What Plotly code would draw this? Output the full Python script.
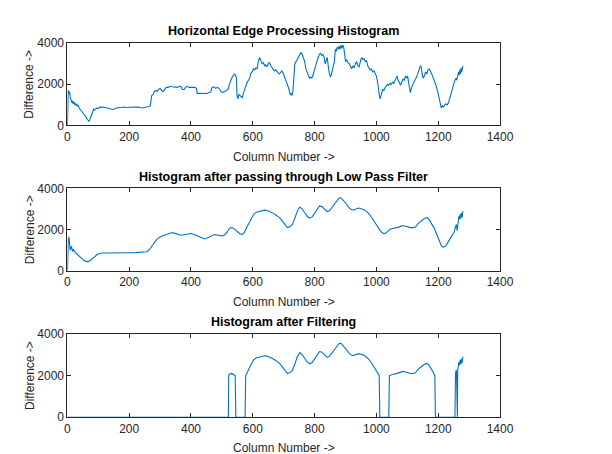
import plotly.graph_objects as go

# ---------------- data ----------------
raw_cols = [0, 1, 3, 5, 7, 9, 11, 13, 15, 17, 19, 21, 23, 25, 28, 31, 34, 37, 40, 43, 46, 49, 52, 55, 58, 61, 64, 67, 70, 73, 76, 79, 82, 85, 88, 91, 95, 100, 105, 110, 116, 122, 128, 134, 140, 146, 152, 158, 164, 170, 176, 182, 188, 194, 200, 206, 212, 218, 224, 230, 236, 242, 248, 254, 260, 265, 268, 270, 273, 277, 281, 285, 290, 295, 300, 305, 310, 315, 320, 326, 332, 338, 344, 350, 356, 362, 368, 372, 378, 382, 388, 394, 400, 406, 412, 418, 420, 428, 436, 444, 452, 458, 464, 468, 474, 480, 486, 492, 498, 504, 510, 515, 520, 524, 528, 532, 536, 540, 544, 547, 549, 552, 555, 558, 562, 566, 570, 574, 578, 582, 586, 590, 594, 598, 602, 606, 610, 614, 618, 622, 626, 630, 634, 638, 642, 646, 650, 654, 658, 662, 666, 670, 674, 678, 682, 686, 690, 694, 698, 702, 706, 710, 714, 718, 721, 724, 727, 730, 733, 736, 740, 744, 748, 752, 756, 760, 764, 768, 771, 775, 779, 783, 787, 791, 795, 799, 803, 807, 811, 815, 819, 823, 827, 831, 834, 837, 841, 844, 848, 852, 856, 860, 864, 867, 870, 873, 876, 879, 882, 885, 888, 891, 894, 897, 900, 904, 908, 912, 916, 920, 924, 928, 932, 936, 940, 944, 948, 952, 956, 960, 964, 968, 972, 976, 980, 984, 988, 992, 996, 1000, 1004, 1008, 1011, 1014, 1017, 1020, 1024, 1028, 1032, 1036, 1040, 1044, 1048, 1052, 1056, 1060, 1064, 1067, 1070, 1074, 1078, 1082, 1086, 1090, 1094, 1098, 1101, 1104, 1107, 1110, 1114, 1118, 1122, 1126, 1130, 1134, 1138, 1142, 1145, 1148, 1151, 1155, 1159, 1163, 1167, 1171, 1175, 1179, 1183, 1187, 1191, 1195, 1199, 1203, 1207, 1210, 1213, 1217, 1221, 1225, 1229, 1233, 1237, 1241, 1245, 1249, 1253, 1257, 1260, 1263, 1266, 1268, 1270, 1272, 1274, 1276, 1278, 1280]
raw_vals = [0, 1500, 1700, 1550, 1650, 1400, 1250, 1150, 1100, 1200, 1050, 1150, 1100, 1000, 1050, 950, 1000, 850, 800, 750, 700, 650, 600, 550, 450, 400, 300, 250, 200, 300, 450, 600, 700, 800, 750, 800, 850, 820, 900, 880, 900, 870, 860, 840, 800, 780, 800, 830, 870, 860, 880, 900, 870, 880, 900, 880, 920, 900, 880, 900, 870, 850, 870, 880, 900, 920, 950, 1300, 1450, 1500, 1650, 1700, 1650, 1750, 1800, 1700, 1650, 1750, 1850, 1850, 1900, 1880, 1870, 1850, 1850, 1900, 1880, 1750, 1750, 1850, 1900, 1850, 1850, 1830, 1850, 1800, 1550, 1560, 1550, 1560, 1550, 1600, 1620, 1850, 1880, 1800, 1850, 1780, 1620, 1600, 1650, 1700, 1750, 2000, 2200, 2300, 2400, 2500, 2450, 2300, 1400, 1300, 1500, 1450, 1400, 1350, 1600, 1800, 1900, 2100, 2200, 2300, 2550, 2600, 2750, 2700, 2800, 2750, 3100, 3300, 3150, 3000, 3050, 2900, 2950, 2850, 3000, 3050, 2900, 2800, 2750, 2650, 2700, 2600, 2550, 2500, 2600, 2650, 2550, 2400, 2200, 2100, 1900, 1700, 1500, 1550, 1450, 1700, 2600, 3000, 3100, 3200, 3300, 3450, 3550, 3450, 3300, 3100, 2800, 2600, 2400, 2300, 2350, 2300, 2450, 2700, 2900, 3100, 3250, 3450, 3500, 3400, 3450, 3300, 3000, 3200, 3300, 2900, 2500, 2350, 2600, 2800, 3100, 3700, 3600, 3800, 3700, 3850, 3700, 3900, 3750, 3900, 3800, 3500, 3100, 3200, 3050, 3000, 2900, 2750, 2900, 2800, 3000, 3100, 2900, 2850, 3100, 3300, 3200, 3250, 3100, 3150, 2900, 2800, 2700, 2750, 2600, 2650, 2500, 2400, 2100, 1700, 1300, 1400, 1600, 1750, 1700, 1850, 1900, 2000, 1950, 2050, 2000, 2100, 2050, 2150, 2300, 2400, 2200, 2100, 1950, 2100, 2250, 2200, 2400, 2300, 2400, 2100, 1700, 1600, 1850, 2000, 2150, 2250, 2350, 2500, 2700, 2900, 2850, 2500, 2300, 2400, 2600, 2500, 2700, 2750, 2650, 2500, 2350, 2200, 2000, 1850, 1600, 1350, 1000, 850, 950, 900, 1000, 1050, 1000, 1100, 1300, 1550, 1800, 2000, 2150, 2300, 2200, 2400, 2600, 2450, 2700, 2500, 2800, 2600, 2850, 2900]

lpf_cols = [0, 1, 3, 5, 7, 9, 11, 13, 15, 17, 19, 21, 25, 30, 38, 46, 54, 60, 66, 72, 80, 88, 96, 104, 112, 130, 154, 175, 196, 220, 249, 258, 266, 274, 281, 288, 295, 302, 310, 318, 326, 334, 340, 348, 356, 365, 374, 382, 392, 400, 410, 420, 430, 438, 444, 452, 460, 468, 476, 484, 492, 500, 508, 514, 520, 526, 532, 538, 544, 550, 558, 566, 572, 580, 588, 596, 604, 612, 620, 628, 638, 648, 658, 668, 678, 688, 696, 704, 712, 720, 728, 736, 744, 752, 760, 768, 776, 784, 792, 800, 808, 816, 824, 832, 840, 848, 856, 864, 872, 880, 886, 894, 902, 910, 918, 926, 934, 942, 950, 958, 966, 974, 982, 990, 998, 1006, 1014, 1022, 1030, 1038, 1046, 1054, 1062, 1070, 1078, 1086, 1094, 1102, 1110, 1118, 1126, 1134, 1142, 1150, 1158, 1164, 1170, 1178, 1186, 1192, 1198, 1204, 1210, 1216, 1222, 1228, 1234, 1240, 1246, 1252, 1256, 1259, 1261, 1263, 1265, 1267, 1269, 1271, 1273, 1275, 1277, 1279, 1280]
lpf_vals = [0, 1400, 1500, 1650, 1300, 1000, 1100, 1200, 1050, 950, 1050, 980, 900, 830, 720, 600, 500, 460, 450, 480, 560, 680, 790, 850, 870, 865, 860, 870, 880, 885, 900, 930, 1050, 1230, 1370, 1500, 1600, 1670, 1720, 1750, 1790, 1850, 1860, 1820, 1770, 1740, 1740, 1760, 1790, 1810, 1770, 1700, 1620, 1570, 1550, 1590, 1660, 1730, 1760, 1740, 1710, 1700, 1740, 1820, 1960, 2080, 2100, 2060, 1980, 1900, 1800, 1760, 1850, 2100, 2350, 2580, 2770, 2850, 2880, 2920, 2950, 2920, 2860, 2780, 2680, 2560, 2400, 2220, 2100, 2140, 2250, 2550, 2900, 3100, 3000, 2820, 2650, 2560, 2620, 2800, 3000, 3150, 3120, 3000, 2880, 2920, 3070, 3250, 3420, 3550, 3540, 3420, 3260, 3100, 2980, 2960, 3020, 3050, 3020, 2980, 2900, 2800, 2650, 2450, 2250, 2050, 1920, 1820, 1830, 1940, 2030, 2060, 2080, 2110, 2160, 2200, 2170, 2120, 2100, 2100, 2130, 2280, 2400, 2480, 2560, 2580, 2500, 2330, 2100, 1900, 1650, 1400, 1220, 1150, 1180, 1300, 1450, 1580, 1720, 1900, 2150, 2250, 1950, 2250, 2400, 2650, 2500, 2750, 2550, 2800, 2600, 2850, 2900]

filt_cols = [0, 521, 522, 526, 532, 538, 543, 545, 575, 577, 580, 588, 596, 604, 612, 620, 628, 638, 648, 658, 668, 678, 688, 696, 704, 712, 720, 728, 736, 744, 752, 760, 768, 776, 784, 792, 800, 808, 816, 824, 832, 840, 848, 856, 864, 872, 880, 886, 894, 902, 910, 918, 926, 934, 942, 950, 958, 966, 974, 982, 990, 998, 1006, 1009, 1011, 1040, 1042, 1046, 1054, 1062, 1070, 1078, 1086, 1094, 1102, 1110, 1118, 1126, 1134, 1142, 1150, 1158, 1164, 1170, 1178, 1186, 1189, 1191, 1254, 1255, 1256, 1259, 1260, 1262, 1263, 1265, 1267, 1269, 1271, 1273, 1275, 1277, 1279, 1280]
filt_vals = [0, 0, 2020, 2080, 2100, 2060, 2000, 0, 0, 2000, 2100, 2350, 2580, 2770, 2850, 2880, 2920, 2950, 2920, 2860, 2780, 2680, 2560, 2400, 2220, 2100, 2140, 2250, 2550, 2900, 3100, 3000, 2820, 2650, 2560, 2620, 2800, 3000, 3150, 3120, 3000, 2880, 2920, 3070, 3250, 3420, 3550, 3540, 3420, 3260, 3100, 2980, 2960, 3020, 3050, 3020, 2980, 2900, 2800, 2650, 2450, 2250, 2050, 2000, 0, 0, 2000, 2030, 2060, 2080, 2110, 2160, 2200, 2170, 2120, 2100, 2100, 2130, 2280, 2400, 2480, 2560, 2580, 2500, 2330, 2100, 2000, 0, 0, 2000, 2150, 2250, 0, 0, 2250, 2400, 2650, 2500, 2750, 2550, 2800, 2600, 2850, 2900]

titles = ["Horizontal Edge Processing Histogram",
          "Histogram after passing through Low Pass Filter",
          "Histogram after Filtering"]
x_ticks = [0, 200, 400, 600, 800, 1000, 1200, 1400]
y_ticks = [0, 2000, 4000]

# ---------------- layout ----------------
W, H = 612, 454
LINE = "#0072BD"
AX = "#262626"
FONT = "Liberation Sans, Arial, sans-serif"

x_dom = [58 / W, 503 / W]
boxes = [(29, 114), (179, 264), (329, 415)]  # top, bottom in px

fig = go.Figure()
series = [(raw_cols, raw_vals), (lpf_cols, lpf_vals), (filt_cols, filt_vals)]
for i, (xs, ys) in enumerate(series):
    sfx = "" if i == 0 else str(i + 1)
    fig.add_trace(go.Scatter(x=xs, y=ys, mode="lines",
                             line=dict(color=LINE, width=1.1),
                             xaxis="x" + sfx, yaxis="y" + sfx,
                             showlegend=False, hoverinfo="skip"))

annotations = []
for i, (top, bot) in enumerate(boxes):
    sfx = "" if i == 0 else str(i + 1)
    ydom = [1 - bot / H, 1 - top / H]
    common = dict(showline=True, linecolor=AX, linewidth=1, mirror="ticks",
                  ticks="inside", ticklen=4, tickcolor=AX, tickwidth=1,
                  showgrid=False, zeroline=False,
                  tickfont=dict(family=FONT, size=12, color=AX))
    fig.layout["xaxis" + sfx] = dict(domain=x_dom, range=[0, 1400], tickvals=x_ticks,
                                     anchor="y" + sfx, **common)
    fig.layout["yaxis" + sfx] = dict(domain=ydom, range=[0, 4000], tickvals=y_ticks,
                                     anchor="x" + sfx, **common)
    xc = (x_dom[0] + x_dom[1]) / 2
    annotations.append(dict(text="<b>" + titles[i] + "</b>", xref="paper", yref="paper",
                            x=xc, y=1 - (top - 3) / H, xanchor="center", yanchor="bottom",
                            showarrow=False, font=dict(family=FONT, size=12.5, color="black")))
    annotations.append(dict(text="Column Number ->", xref="paper", yref="paper",
                            x=xc, y=1 - (bot + 23) / H, xanchor="center", yanchor="top",
                            showarrow=False, font=dict(family=FONT, size=12, color=AX)))
    annotations.append(dict(text="Difference ->", xref="paper", yref="paper",
                            x=19 / W, y=1 - (top + bot) / 2 / H, xanchor="center",
                            yanchor="middle", textangle=-90,
                            showarrow=False, font=dict(family=FONT, size=12, color=AX)))

fig.update_layout(width=W, height=H, autosize=False,
                  margin=dict(l=0, r=0, t=0, b=0),
                  paper_bgcolor="white", plot_bgcolor="white",
                  annotations=annotations)

fig.write_html("out.html")
